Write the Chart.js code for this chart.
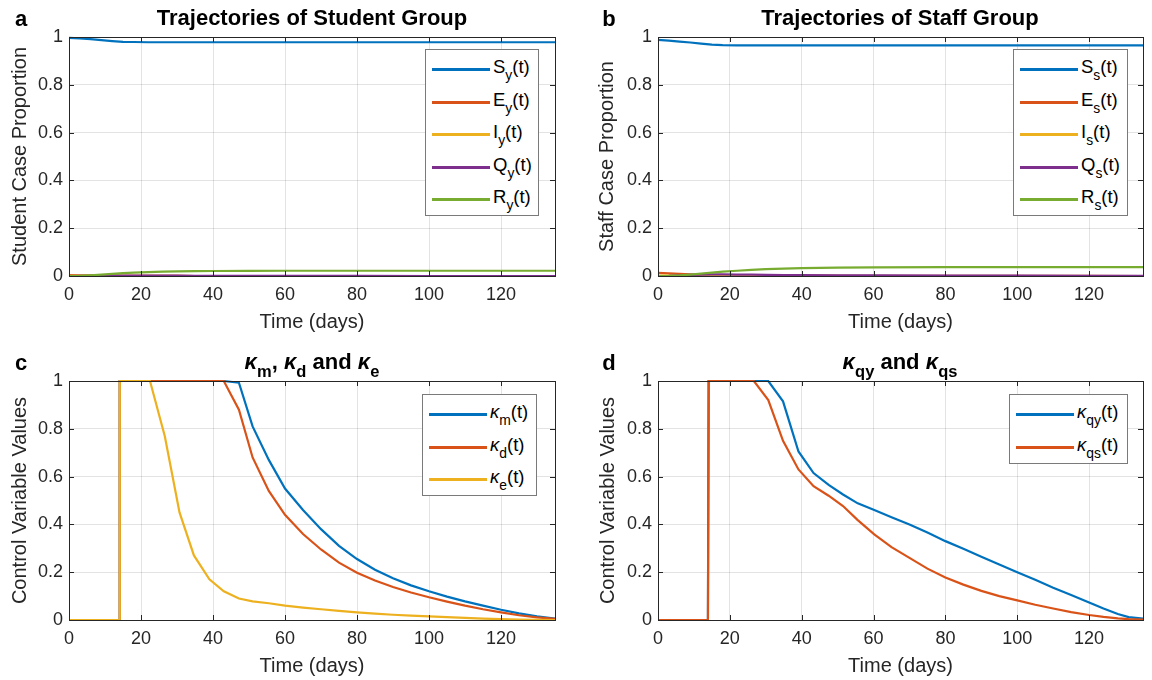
<!DOCTYPE html>
<html>
<head>
<meta charset="utf-8">
<script src="https://cdn.jsdelivr.net/npm/chart.js@4.4.1/dist/chart.umd.min.js"></script>
<style>
body { margin: 0; background: #fff; font-family: "Liberation Sans", Arial, sans-serif; }
#fig { position: relative; width: 1152px; height: 680px; overflow: hidden; }
canvas { position: absolute; }
.lbl { position: absolute; transform: translate(-50%, -50%); white-space: nowrap; color: #000; font-weight: bold; font-size: 22px; }
.leg { position: absolute; background: #fff; border: 1px solid #7a7a7a; box-sizing: border-box; }
.row { position: absolute; left: 0; height: 0; }
.ln { position: absolute; left: 6px; width: 58px; height: 3px; top: -1px; }
.tx { position: absolute; left: 67px; top: -13px; font-size: 18.5px; line-height: 22px; color: #000; white-space: nowrap; }
sub { font-size: 75%; vertical-align: -0.5em; line-height: 0; }
</style>
</head>
<body>
<div id="fig">
  <canvas id="ca" width="576" height="340" style="left:0;top:0"></canvas>
  <canvas id="cb" width="576" height="340" style="left:576px;top:0"></canvas>
  <canvas id="cc" width="576" height="340" style="left:0;top:340px"></canvas>
  <canvas id="cd" width="576" height="340" style="left:576px;top:340px"></canvas>
</div>
<script>
// panels a, b: state trajectories
const tAB = [0, 3, 6, 9, 12, 15, 18, 22, 26, 30, 35, 40, 50, 60, 80, 100, 120, 135];
const Sy = [0.996, 0.994, 0.991, 0.987, 0.983, 0.980, 0.979, 0.978, 0.978, 0.978, 0.978, 0.978, 0.978, 0.978, 0.978, 0.978, 0.978, 0.978];
const Ey = [0.004, 0.003, 0.0025, 0.002, 0.0015, 0.001, 0.0008, 0.0005, 0.0003, 0.0002, 0.0001, 0, 0, 0, 0, 0, 0, 0];
const Iy = [0.001, 0.0015, 0.0015, 0.0013, 0.001, 0.0008, 0.0006, 0.0004, 0.0003, 0.0002, 0.0001, 0, 0, 0, 0, 0, 0, 0];
const Qy = [0, 0.0005, 0.001, 0.0015, 0.002, 0.002, 0.002, 0.0018, 0.0015, 0.0012, 0.001, 0.0008, 0.0005, 0.0003, 0.0002, 0.0001, 0, 0];
const Ry = [0, 0.001, 0.003, 0.006, 0.009, 0.012, 0.014, 0.016, 0.018, 0.019, 0.020, 0.021, 0.0215, 0.022, 0.022, 0.022, 0.022, 0.022];

const Ss = [0.988, 0.985, 0.981, 0.977, 0.972, 0.968, 0.966, 0.965, 0.965, 0.965, 0.965, 0.965, 0.965, 0.965, 0.965, 0.965, 0.965, 0.965];
const Es = [0.013, 0.011, 0.009, 0.007, 0.005, 0.004, 0.003, 0.0025, 0.002, 0.0018, 0.0015, 0.0012, 0.001, 0.0008, 0.0005, 0.0003, 0.0002, 0.0001];
const Is = [0.002, 0.002, 0.002, 0.0018, 0.0015, 0.0012, 0.001, 0.0008, 0.0006, 0.0005, 0.0004, 0.0003, 0.0002, 0.0001, 0, 0, 0, 0];
const Qs = [0, 0.001, 0.003, 0.005, 0.006, 0.0065, 0.0065, 0.006, 0.0055, 0.005, 0.004, 0.0035, 0.003, 0.0025, 0.002, 0.0015, 0.001, 0.001];
const Rs = [0, 0.001, 0.003, 0.006, 0.010, 0.014, 0.018, 0.022, 0.026, 0.029, 0.031, 0.033, 0.035, 0.036, 0.037, 0.037, 0.037, 0.037];

// panel c: controls
const tC = [0, 13.9, 14.1, 22.5, 26.6, 30.7, 34.7, 39, 43, 47.2, 51, 55.5, 60, 65, 70, 75, 80, 85, 90, 95, 100, 105, 110, 115, 120, 125, 130, 135];
const kM = [0, 0, 1, 1, 1, 1, 1, 1, 1, 0.993, 0.81, 0.67, 0.55, 0.46, 0.38, 0.31, 0.255, 0.21, 0.175, 0.145, 0.12, 0.098, 0.078, 0.06, 0.043, 0.028, 0.015, 0.006];
const kD = [0, 0, 1, 1, 1, 1, 1, 1, 1, 0.88, 0.68, 0.54, 0.44, 0.36, 0.295, 0.24, 0.198, 0.165, 0.138, 0.115, 0.095, 0.077, 0.06, 0.045, 0.032, 0.02, 0.011, 0.005];
const kE = [0, 0, 1, 1, 0.77, 0.45, 0.27, 0.17, 0.12, 0.09, 0.078, 0.07, 0.06, 0.052, 0.045, 0.038, 0.032, 0.027, 0.022, 0.018, 0.015, 0.012, 0.009, 0.006, 0.004, 0.002, 0.001, 0];

// panel d: quarantine controls
const tD = [0, 13.9, 14.1, 26.7, 30.7, 34.8, 39.1, 43.3, 47.5, 51.5, 55.6, 60.2, 65, 70, 75, 80, 85, 90, 95, 100, 105, 110, 115, 120, 124, 128, 131, 135];
const kQY = [0, 0, 1, 1, 1, 0.915, 0.705, 0.615, 0.565, 0.525, 0.488, 0.46, 0.43, 0.40, 0.366, 0.33, 0.298, 0.265, 0.232, 0.2, 0.168, 0.135, 0.105, 0.073, 0.048, 0.025, 0.012, 0.006];
const kQS = [0, 0, 1, 1, 0.92, 0.75, 0.63, 0.56, 0.52, 0.477, 0.418, 0.358, 0.305, 0.26, 0.215, 0.178, 0.148, 0.122, 0.1, 0.082, 0.064, 0.048, 0.033, 0.021, 0.013, 0.007, 0.004, 0.002];

const xTicks = [0, 20, 40, 60, 80, 100, 120];
const yTicks = [0, 0.2, 0.4, 0.6, 0.8, 1];
const colors = ['#0072BD', '#D95319', '#EDB120', '#7E2F8E', '#77AC30'];

const fig = document.getElementById('fig');

// box with inward ticks, MATLAB style
const boxTicks = {
  id: 'boxTicks',
  afterDatasetsDraw(chart) {
    const { ctx, chartArea: a, scales: { x, y } } = chart;
    ctx.save();
    ctx.strokeStyle = '#262626';
    ctx.lineWidth = 1;
    ctx.beginPath();
    xTicks.forEach(v => {
      const px = Math.round(x.getPixelForValue(v)) + 0.5;
      ctx.moveTo(px, a.bottom); ctx.lineTo(px, a.bottom - 5);
      ctx.moveTo(px, a.top); ctx.lineTo(px, a.top + 5);
    });
    yTicks.forEach(v => {
      const py = Math.round(y.getPixelForValue(v)) + 0.5;
      ctx.moveTo(a.left, py); ctx.lineTo(a.left + 5, py);
      ctx.moveTo(a.right, py); ctx.lineTo(a.right - 5, py);
    });
    ctx.stroke();
    ctx.strokeRect(Math.round(a.left) + 0.5, Math.round(a.top) + 0.5, Math.round(a.right - a.left), Math.round(a.bottom - a.top));
    ctx.restore();
  }
};

const makeChart = (id, t, series, yLabel, box) => {
  const W = 576, H = 340;
  return new Chart(document.getElementById(id), {
    type: 'line',
    data: {
      datasets: series.map((s, i) => ({
        data: t.map((tv, j) => ({ x: tv, y: s[j] })),
        borderColor: colors[i],
        borderWidth: 2.2,
        pointRadius: 0,
        tension: 0,
        clip: 4,
        order: series.length - i
      }))
    },
    options: {
      responsive: false,
      animation: false,
      devicePixelRatio: 1,
      layout: { padding: { left: 0, top: box.top, right: W - box.right, bottom: 0 } },
      plugins: { legend: { display: false }, tooltip: { enabled: false } },
      scales: {
        x: {
          type: 'linear', min: 0, max: 135,
          afterFit: s => { s.height = H - box.bottom; },
          afterBuildTicks: s => { s.ticks = xTicks.map(v => ({ value: v })); },
          grid: { color: 'rgba(38,38,38,0.13)', drawTicks: false },
          border: { display: false },
          ticks: { padding: 8, color: '#262626', font: { size: 18, family: 'Liberation Sans' }, maxRotation: 0 },
          title: { display: true, text: 'Time (days)', color: '#262626', padding: { top: 0, bottom: box.xtPad }, font: { size: 20, family: 'Liberation Sans', lineHeight: 1.2 } }
        },
        y: {
          min: 0, max: 1,
          afterFit: s => { s.width = box.left; },
          afterBuildTicks: s => { s.ticks = yTicks.map(v => ({ value: v })); },
          grid: { color: 'rgba(38,38,38,0.13)', drawTicks: false },
          border: { display: false },
          ticks: { padding: 6, color: '#262626', font: { size: 18, family: 'Liberation Sans' }, callback: v => String(+v.toFixed(1)) },
          title: { display: true, text: yLabel, color: '#262626', padding: { top: box.ytPad, bottom: 0 }, font: { size: 20, family: 'Liberation Sans', lineHeight: 1.2 } }
        }
      }
    },
    plugins: [boxTicks]
  });
};

const addLabel = (html, x, y) => {
  const d = document.createElement('div');
  d.className = 'lbl';
  d.style.left = x + 'px';
  d.style.top = y + 'px';
  d.innerHTML = html;
  fig.appendChild(d);
};

const addLegend = (x, y, w, h, names, sub) => {
  const lg = document.createElement('div');
  lg.className = 'leg';
  lg.style.cssText = `left:${x}px;top:${y}px;width:${w}px;height:${h}px`;
  names.forEach((n, i) => {
    const r = document.createElement('div');
    r.className = 'row';
    r.style.top = Math.round(19 + i * 32.5) + 'px';
    r.innerHTML = `<span class="ln" style="background:${colors[i]}"></span><span class="tx">${n}<sub>${sub[i]}</sub>(t)</span>`;
    lg.appendChild(r);
  });
  fig.appendChild(lg);
};

makeChart('ca', tAB, [Sy, Ey, Iy, Qy, Ry], 'Student Case Proportion', { left: 69, right: 555, top: 37, bottom: 276, ytPad: 8, xtPad: 6 });
makeChart('cb', tAB, [Ss, Es, Is, Qs, Rs], 'Staff Case Proportion', { left: 82, right: 567, top: 37, bottom: 276, ytPad: 19, xtPad: 6 });
makeChart('cc', tC, [kM, kD, kE], 'Control Variable Values', { left: 69, right: 555, top: 41, bottom: 280, ytPad: 8, xtPad: 2 });
makeChart('cd', tD, [kQY, kQS], 'Control Variable Values', { left: 82, right: 567, top: 41, bottom: 280, ytPad: 20, xtPad: 2 });

const stateNames = ['S', 'E', 'I', 'Q', 'R'];
addLegend(425, 49, 114, 167, stateNames, ['y', 'y', 'y', 'y', 'y']);
addLegend(1013, 49, 115, 167, stateNames, ['s', 's', 's', 's', 's']);
addLegend(422, 394, 115, 102, ['<i>κ</i>', '<i>κ</i>', '<i>κ</i>'], ['m', 'd', 'e']);
addLegend(1009, 394, 119, 70, ['<i>κ</i>', '<i>κ</i>'], ['qy', 'qs']);

addLabel('Trajectories of Student Group', 312, 18);
addLabel('Trajectories of Staff Group', 900, 18);
addLabel('<i>κ</i><sub>m</sub>, <i>κ</i><sub>d</sub> and <i>κ</i><sub>e</sub>', 312, 362);
addLabel('<i>κ</i><sub>qy</sub> and <i>κ</i><sub>qs</sub>', 900, 362);
addLabel('a', 21, 19);
addLabel('b', 609, 19);
addLabel('c', 21, 363);
addLabel('d', 609, 363);
</script>
</body>
</html>
